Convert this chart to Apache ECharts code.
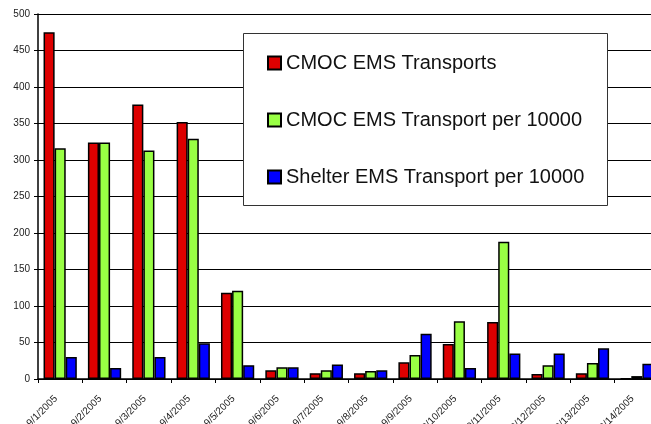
<!DOCTYPE html>
<html>
<head>
<meta charset="utf-8">
<script src="https://cdn.jsdelivr.net/npm/echarts@6/dist/echarts.min.js"></script>
<style>
  html, body { margin: 0; padding: 0; background: #fff; }
  #chart { width: 651px; height: 424px; }
</style>
</head>
<body>
<div id="chart"></div>
<script>
// Daily EMS transports, 1–14 September 2005
var dates = ['9/1/2005', '9/2/2005', '9/3/2005', '9/4/2005', '9/5/2005', '9/6/2005', '9/7/2005',
             '9/8/2005', '9/9/2005', '9/10/2005', '9/11/2005', '9/12/2005', '9/13/2005', '9/14/2005'];
var cmocTransports = [475, 324, 376, 352, 118, 12, 8, 8, 23, 48, 78, 7, 8, 1];
var cmocPer10000 = [316, 324, 313, 329, 121, 16, 12, 11, 33, 79, 188, 19, 22, 4];
var shelterPer10000 = [30, 15, 30, 49, 19, 16, 20, 12, 62, 15, 35, 35, 42, 21];
var seriesNames = ['CMOC EMS Transports', 'CMOC EMS Transport per 10000', 'Shelter EMS Transport per 10000'];
var yTicks = { min: 0, max: 500, interval: 50 };

var font = '"Liberation Sans", Arial, sans-serif';

function barSeries(name, data, color) {
  return {
    name: name,
    type: 'bar',
    data: data,
    barGap: '0%',
    barCategoryGap: '25%',
    itemStyle: { color: color, borderColor: '#000', borderWidth: 1.5 }
  };
}

var chart = echarts.init(document.getElementById('chart'), null, { renderer: 'canvas' });
chart.setOption({
  animation: false,
  backgroundColor: '#fff',
  textStyle: { fontFamily: font },
  grid: { left: 38, top: 14, bottom: 45, right: -8, containLabel: false, outerBoundsMode: 'none' },
  xAxis: {
    type: 'category',
    data: dates,
    boundaryGap: true,
    axisLine: { lineStyle: { color: '#000', width: 1.5 } },
    axisTick: { show: true, length: 4, lineStyle: { color: '#000' }, alignWithLabel: false },
    axisLabel: { rotate: 45, fontSize: 10, color: '#222', margin: 14, padding: [0, 6, 0, 0], fontFamily: font, interval: 0 }
  },
  yAxis: {
    type: 'value',
    min: yTicks.min,
    max: yTicks.max,
    interval: yTicks.interval,
    axisLine: { show: true, lineStyle: { color: '#000', width: 1.5 } },
    axisTick: { show: true, length: 4, lineStyle: { color: '#000' } },
    axisLabel: { fontSize: 10, color: '#222', margin: 8, fontFamily: font },
    splitLine: { show: true, lineStyle: { color: '#000', width: 1 } }
  },
  graphic: [{
    type: 'rect',
    z: 50,
    shape: { x: 243.5, y: 33.5, width: 364, height: 172 },
    style: { fill: '#fff', stroke: '#333', lineWidth: 1 }
  }],
  legend: {
    z: 60,
    orient: 'vertical',
    left: 267,
    top: 53,
    padding: 0,
    itemGap: 37,
    itemWidth: 13,
    itemHeight: 13,
    icon: 'rect',
    textStyle: { fontSize: 20, lineHeight: 20, color: '#111', fontFamily: font },
    data: seriesNames
  },
  series: [
    barSeries(seriesNames[0], cmocTransports, '#dd0000'),
    barSeries(seriesNames[1], cmocPer10000, '#99ff44'),
    barSeries(seriesNames[2], shelterPer10000, '#0000ff')
  ]
});
</script>
</body>
</html>
